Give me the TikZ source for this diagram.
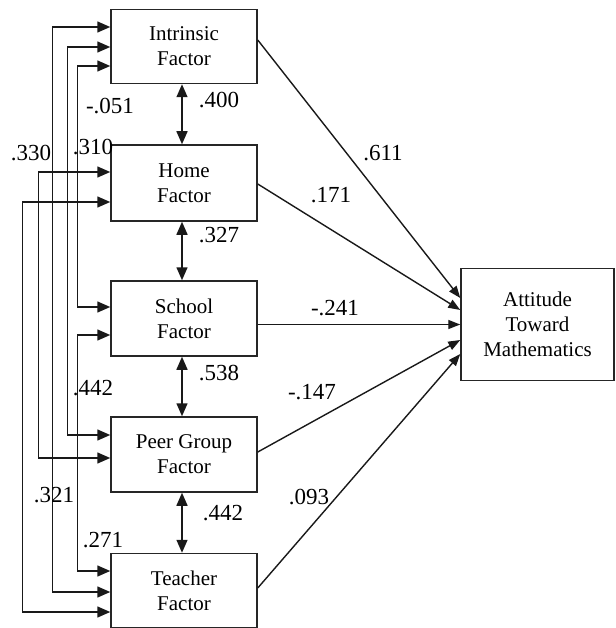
\documentclass[tikz,border=0pt]{standalone}
\usepackage{fontspec}
\setmainfont{Liberation Serif}
\usetikzlibrary{arrows.meta}
\begin{document}
\begin{tikzpicture}[x=1pt,y=-1pt,
  box/.style={draw=black!85, line width=1.5pt, fill=white, minimum width=146pt, minimum height=74pt, inner sep=0pt, align=center, font=\fontsize{21}{25}\selectfont},
  lbl/.style={inner sep=0pt, font=\fontsize{23}{27}\selectfont},
  link/.style={line width=1.5pt, draw=black!90, {Triangle[length=13pt,width=11pt]}-{Triangle[length=13pt,width=11pt]}},
  effect/.style={line width=1.4pt, draw=black!90, -{Triangle[length=12pt,width=9pt]}}
]
\useasboundingbox (0,0) rectangle (615,628);

% boxes
\node[box] (intr) at (184,46.5) {Intrinsic\\Factor};
\node[box, minimum height=76pt] (home) at (184,183) {Home\\Factor};
\node[box, minimum height=75pt] (school) at (184,318.5) {School\\Factor};
\node[box, minimum height=75pt] (peer) at (184,454.5) {Peer Group\\Factor};
\node[box] (teach) at (184,590.5) {Teacher\\Factor};
\node[box, minimum width=153pt, minimum height=112pt] (att) at (537.5,324.5) {Attitude\\Toward\\Mathematics};

% adjacent correlations
\draw[link] ([xshift=-2pt]intr.south) -- ([xshift=-2pt]home.north);
\draw[link] ([xshift=-2pt]home.south) -- ([xshift=-2pt]school.north);
\draw[link] ([xshift=-2pt]school.south) -- ([xshift=-2pt]peer.north);
\draw[link] ([xshift=-2pt]peer.south) -- ([xshift=-2pt]teach.north);

% left correlations
\draw[link] ([yshift=-19.5pt]intr.west) -- ++(-33,0) |- ([yshift=11.5pt]school.west);
\draw[link] ([yshift=-0.5pt]intr.west) -- ++(-43,0) |- ([yshift=19.5pt]peer.west);
\draw[link] ([yshift=19.5pt]intr.west) -- ++(-58,0) |- ([yshift=-1.5pt]teach.west);
\draw[link] ([yshift=11pt]home.west) -- ++(-72,0) |- ([yshift=-3.5pt]peer.west);
\draw[link] ([yshift=-19pt]home.west) -- ++(-88,0) |- ([yshift=-21.5pt]teach.west);
\draw[link] ([yshift=-16.5pt]school.west) -- ++(-33,0) |- ([yshift=19.5pt]teach.west);

% effects
\draw[effect] ([yshift=6.5pt]intr.east) -- ([yshift=26.5pt]att.west);
\draw[effect] ([yshift=-1pt]home.east) -- ([yshift=14.5pt]att.west);
\draw[effect] ([yshift=-6pt]school.east) -- ([yshift=0pt]att.west);
\draw[effect] ([yshift=2.5pt]peer.east) -- ([yshift=-15.5pt]att.west);
\draw[effect] ([yshift=2.5pt]teach.east) -- ([yshift=-29.5pt]att.west);

% labels
\node[lbl] (c1) at (110,106) {-.051};
\node[lbl] (c2) at (31,153) {.330};
\node[lbl] (c3) at (93,147) {.310};
\node[lbl] (c4) at (93,388) {.442};
\node[lbl] (c5) at (54,495) {.321};
\node[lbl] (c6) at (103,540) {.271};
\node[lbl] (r1) at (219,100) {.400};
\node[lbl] (r2) at (219,235) {.327};
\node[lbl] (r3) at (219,373) {.538};
\node[lbl] (r4) at (223,513) {.442};
\node[lbl] (e1) at (383,153) {.611};
\node[lbl] (e2) at (331,195) {.171};
\node[lbl] (e3) at (335,308) {-.241};
\node[lbl] (e4) at (312,392) {-.147};
\node[lbl] (e5) at (309,497) {.093};
\end{tikzpicture}
\end{document}
